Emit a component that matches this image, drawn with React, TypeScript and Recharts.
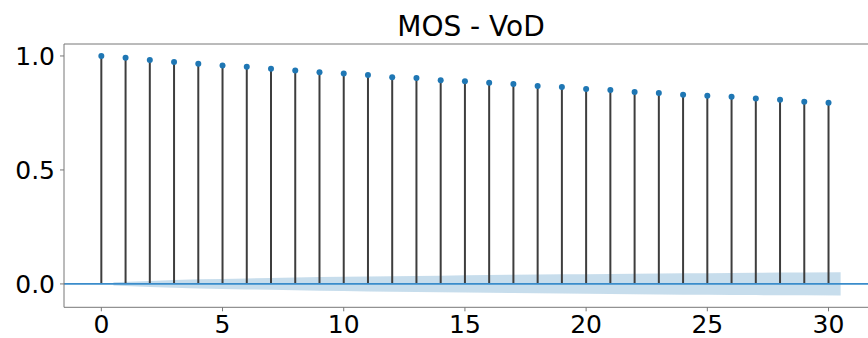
import { ComposedChart, Area, Scatter, XAxis, YAxis, ReferenceLine } from 'recharts';

const lags = [0, 1, 2, 3, 4, 5, 6, 7, 8, 9, 10, 11, 12, 13, 14, 15, 16, 17, 18, 19, 20, 21, 22, 23, 24, 25, 26, 27, 28, 29, 30];
const acfValues = [
  1.0, 0.992, 0.982, 0.974, 0.966, 0.958, 0.953, 0.944, 0.936, 0.929, 0.923,
  0.916, 0.907, 0.903, 0.893, 0.889, 0.882, 0.877, 0.868, 0.864, 0.855,
  0.851, 0.842, 0.838, 0.83, 0.826, 0.821, 0.813, 0.808, 0.799, 0.795,
];
// half-width of the confidence band for lags 1..30
const confBand = [
  0.007, 0.013, 0.017, 0.02, 0.022, 0.024, 0.026, 0.028, 0.03, 0.031,
  0.033, 0.034, 0.035, 0.036, 0.038, 0.039, 0.04, 0.041, 0.042, 0.043,
  0.044, 0.045, 0.046, 0.047, 0.047, 0.048, 0.049, 0.05, 0.05, 0.051,
];
const xTicks = [0, 5, 10, 15, 20, 25, 30];
const yTicks = [0, 0.5, 1.0];

const acfPoints = lags.map((lag, i) => ({ x: lag, y: acfValues[i] }));
const bandData = confBand.map((w, i) => {
  const lag = lags[i + 1];
  const x = i === 0 ? lag - 0.5 : i === confBand.length - 1 ? lag + 0.5 : lag;
  return { x, band: [-w, w] };
});

const BLUE = '#1f77b4';
const SPINE = '#777';
const FONT = '"DejaVu Sans", sans-serif';

const XTick = ({ x, y, payload }: any) => (
  <text x={x} y={y} dy="0.71em" textAnchor="middle" fontSize={25} fontFamily={FONT} fill="#000">
    {payload.value}
  </text>
);

const YTick = ({ x, y, payload }: any) => (
  <text x={x} y={y} dy="0.36em" textAnchor="end" fontSize={25} fontFamily={FONT} fill="#000">
    {Number(payload.value).toFixed(1)}
  </text>
);

export default function App() {
  return (
    <div style={{ position: 'absolute', left: 0, top: 0, width: 868, height: 338, overflow: 'hidden', background: '#fff' }}>
      <ComposedChart
        width={877}
        height={338}
        data={bandData}
        margin={{ top: 44, right: 0, bottom: 0, left: 0 }}
      >
        <XAxis
          dataKey="x"
          type="number"
          domain={[-1.54, 32]}
          allowDataOverflow
          ticks={xTicks}
          height={30.7}
          tickSize={4}
          tickMargin={4}
          tick={<XTick />}
          axisLine={{ stroke: SPINE, strokeWidth: 1 }}
          tickLine={{ stroke: SPINE }}
        />
        <YAxis
          type="number"
          domain={[-0.1025, 1.0525]}
          allowDataOverflow
          ticks={yTicks}
          width={64}
          tickSize={4}
          tickMargin={5}
          tick={<YTick />}
          axisLine={{ stroke: SPINE, strokeWidth: 1 }}
          tickLine={{ stroke: SPINE }}
        />
        <ReferenceLine y={1.0525} stroke={SPINE} strokeWidth={1} ifOverflow="visible" />
        {acfPoints.map((p) => (
          <ReferenceLine
            key={p.x}
            segment={[{ x: p.x, y: 0 }, { x: p.x, y: p.y }]}
            stroke="#3d3d3d"
            strokeWidth={2}
          />
        ))}
        <ReferenceLine y={0} stroke="#3a8ccb" strokeWidth={1.7} />
        <Scatter
          data={acfPoints}
          dataKey="y"
          isAnimationActive={false}
          shape={(props: any) => <circle cx={props.cx} cy={props.cy} r={3} fill={BLUE} />}
        />
        <Area
          type="linear"
          dataKey="band"
          stroke="none"
          fill={BLUE}
          fillOpacity={0.25}
          isAnimationActive={false}
          dot={false}
          activeDot={false}
        />
      </ComposedChart>
      <svg width={868} height={338} style={{ position: 'absolute', left: 0, top: 0, pointerEvents: 'none' }}>
        <text x={471} y={36} textAnchor="middle" fontSize={28} fontFamily={FONT} fill="#000">
          MOS - VoD
        </text>
      </svg>
    </div>
  );
}
